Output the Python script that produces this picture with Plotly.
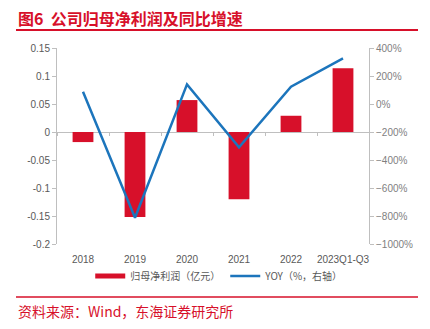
import plotly.graph_objects as go

categories = ["2018", "2019", "2020", "2021", "2022", "2023Q1-Q3"]
profit = [-0.018, -0.152, 0.057, -0.120, 0.029, 0.114]
yoy = [88, -812, 140, -309, 124, 326]

left_ticks = [0.15, 0.1, 0.05, 0, -0.05, -0.1, -0.15, -0.2]
left_labels = ["0.15", "0.1", "0.05", "0", "-0.05", "-0.1", "-0.15", "-0.2"]

RED = "#D7102A"
BLUE = "#1C75BC"
W, H = 430, 329
L, R, T, B = 57, 369, 48, 244

def px(x):
    return (x - L) / (R - L)

def py(y):
    return (B - y) / (B - T)

fig = go.Figure()
fig.add_trace(go.Bar(x=categories, y=profit, name="归母净利润（亿元）",
                     marker=dict(color=RED, line=dict(width=0)), width=0.4,
                     yaxis="y", showlegend=False))
# legend swatch for the bars (wide thin bar as in the reference)
fig.add_trace(go.Scatter(x=[None], y=[None], name="归母净利润（亿元）",
                         mode="lines", line=dict(color=RED, width=5),
                         yaxis="y"))
fig.add_trace(go.Scatter(x=categories, y=yoy, name="YOY（%，右轴）",
                         mode="lines", line=dict(color=BLUE, width=2.5),
                         yaxis="y2"))
# invisible trace for the boundary tick axis
fig.add_trace(go.Scatter(x=categories, y=[0]*6, xaxis="x2", yaxis="y",
                         mode="markers", marker=dict(opacity=0),
                         showlegend=False, hoverinfo="skip"))

tickfont = dict(family="Liberation Sans, Arial", size=10, color="#595959")

fig.update_layout(
    width=W, height=H,
    margin=dict(l=L, r=W - R, t=T, b=H - B),
    paper_bgcolor="white", plot_bgcolor="white",
    xaxis=dict(type="category", showgrid=False, showline=False,
               ticks="outside", ticklen=6, tickcolor="rgba(0,0,0,0)",
               tickfont=tickfont, range=[-0.5, 5.5]),
    xaxis2=dict(type="category", overlaying="x", anchor="free",
                position=py(132), showgrid=False, showline=False,
                ticks="outside", ticklen=3, tickcolor="#bfbfbf",
                tickson="boundaries", showticklabels=False,
                range=[-0.5, 5.5], side="bottom"),
    yaxis=dict(range=[-0.2, 0.15], tickvals=left_ticks, ticktext=left_labels,
               showgrid=False, zeroline=True, zerolinecolor="#bfbfbf",
               zerolinewidth=1, showline=True, linecolor="#bfbfbf",
               ticks="outside", ticklen=4, tickcolor="#bfbfbf",
               tickfont=tickfont),
    yaxis2=dict(range=[-1000, 400], dtick=200, ticksuffix="%",
                overlaying="y", side="right", showgrid=False,
                zeroline=False, showline=True, linecolor="#bfbfbf",
                ticks="outside", ticklen=4, tickcolor="#bfbfbf",
                tickfont=dict(family="Liberation Sans, Arial", size=10,
                              color="#7f7f7f")),
    legend=dict(orientation="h", x=0.52, xanchor="center", y=py(276),
                yanchor="middle", bgcolor="rgba(0,0,0,0)",
                font=dict(family="Noto Sans CJK SC", size=10, color="#595959"),
                tracegroupgap=0),
    showlegend=True,
)

fig.add_annotation(text="<b>图6  公司归母净利润及同比增速</b>", xref="paper",
                   yref="paper", x=px(16), y=py(18), xanchor="left",
                   yanchor="middle", showarrow=False,
                   font=dict(family="Noto Sans CJK SC", size=16, color=RED))
fig.add_annotation(text="资料来源：Wind，东海证券研究所", xref="paper",
                   yref="paper", x=px(16), y=py(311), xanchor="left",
                   yanchor="middle", showarrow=False,
                   font=dict(family="Noto Sans CJK SC", size=14, color=RED))
fig.add_shape(type="line", xref="paper", yref="paper", x0=px(16), x1=px(418),
              y0=py(30), y1=py(30), line=dict(color=RED, width=2))
fig.add_shape(type="line", xref="paper", yref="paper", x0=px(16), x1=px(418),
              y0=py(297), y1=py(297), line=dict(color=RED, width=1.5))

fig.write_html("out.html")
